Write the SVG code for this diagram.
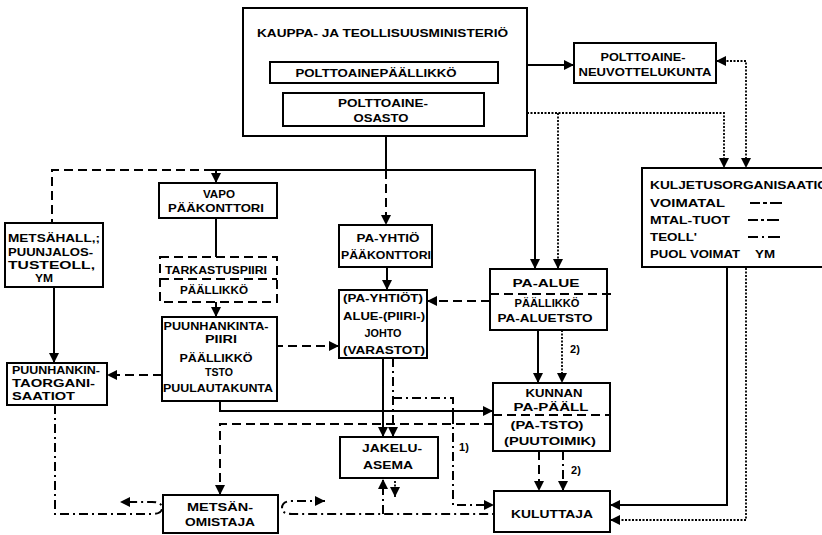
<svg xmlns="http://www.w3.org/2000/svg" width="822" height="535" viewBox="0 0 822 535">
<style>
.bg{fill:#fff}
.box{fill:#fff;stroke:#000;stroke-width:2}
.dbox{fill:#fff;stroke:#000;stroke-width:2;stroke-dasharray:9 5}
.t{font-family:"Liberation Sans",Arial,sans-serif;font-weight:bold;font-size:11px;fill:#000;text-anchor:middle}
.l{text-anchor:start}
.s{fill:none;stroke:#000;stroke-width:2}
.d{fill:none;stroke:#000;stroke-width:2;stroke-dasharray:9 5}
.o{fill:none;stroke:#000;stroke-width:1.8;stroke-dasharray:2 1.5}
.dd{fill:none;stroke:#000;stroke-width:2;stroke-dasharray:9 4 2 4}
</style>
<defs>
<marker id="a" markerUnits="userSpaceOnUse" markerWidth="10" markerHeight="10" refX="10" refY="5" orient="auto-start-reverse">
<path d="M0,0 L10,5 L0,10 z" fill="#000"/>
</marker>
</defs>
<rect class="bg" width="822" height="535"/>

<g id="connectors">
<path class="s" d="M527 65 H574" marker-end="url(#a)"/>
<path class="o" d="M716 61 H746 V168" marker-start="url(#a)" marker-end="url(#a)"/>
<path class="o" d="M527 113 H724 V168" marker-end="url(#a)"/>
<path class="o" d="M558 113 V269" marker-end="url(#a)"/>
<path class="s" d="M386 136 V170"/>
<path class="s" d="M213 170 H535 V269" marker-end="url(#a)"/>
<path class="s" d="M216 170 V183" marker-end="url(#a)"/>
<path class="d" d="M213 170 H52 V223"/>
<path class="d" d="M386 170 V225" marker-end="url(#a)"/>
<path class="s" d="M216 218 V257"/>
<path class="s" d="M216 302 V317" marker-end="url(#a)"/>
<path class="d" d="M162 346 H339" marker-end="url(#a)"/>
<path class="d" d="M162 375 H107" marker-end="url(#a)"/>
<path class="s" d="M54 287 V363" marker-end="url(#a)"/>
<path class="s" d="M220 401 V411 H493" marker-end="url(#a)"/>
<path class="s" d="M387 267 V290" marker-end="url(#a)"/>
<path class="d" d="M490 301 H427" marker-end="url(#a)"/>
<path class="s" d="M538 330 V383" marker-end="url(#a)"/>
<path class="o" d="M562 330 V383" marker-end="url(#a)"/>
<path class="s" d="M383 358 V437" marker-end="url(#a)"/>
<path class="dd" d="M393 358 V437" marker-end="url(#a)"/>
<path class="dd" d="M393 398 H453 V505 H494" marker-end="url(#a)"/>
<path class="s" d="M453 411 V424"/>
<path class="d" d="M493 424 H220 V495" marker-end="url(#a)"/>
<path class="d" d="M539 451 V491" marker-end="url(#a)"/>
<path class="dd" d="M563 451 V491" marker-end="url(#a)"/>
<path class="s" d="M727 268 V505 H610" marker-end="url(#a)"/>
<path class="o" d="M746 268 V520 H610" marker-end="url(#a)"/>
<path class="dd" d="M55 405 V514 H152 Q162 514 162 508 Q162 502 152 502 H120" marker-end="url(#a)"/>
<path class="dd" d="M325 501 H292 Q282 501 282 508 Q282 514 292 514 H494" marker-start="url(#a)"/>
<path class="dd" d="M383 514 V479" marker-end="url(#a)"/>
<path class="o" d="M395 481 V497" marker-end="url(#a)"/>
<text class="t" x="575" y="353">2)</text>
<text class="t" x="576" y="474">2)</text>
<text class="t" x="464" y="451">1)</text>
</g>

<g id="ministerio">
<rect class="box" x="243" y="8" width="284" height="128"/>
<text class="t l" x="257" y="37" textLength="251" lengthAdjust="spacingAndGlyphs">KAUPPA- JA TEOLLISUUSMINISTERIÖ</text>
</g>
<g id="polttoainepaallikko">
<rect class="box" x="270" y="62" width="228" height="21"/>
<text class="t" x="376" y="77" textLength="161" lengthAdjust="spacingAndGlyphs">POLTTOAINEPÄÄLLIKKÖ</text>
</g>
<g id="polttoaineosasto">
<rect class="box" x="283" y="93" width="201" height="33"/>
<text class="t" x="383" y="107" textLength="90" lengthAdjust="spacingAndGlyphs">POLTTOAINE-</text>
<text class="t" x="381" y="122" textLength="55" lengthAdjust="spacingAndGlyphs">OSASTO</text>
</g>
<g id="neuvottelukunta">
<rect class="box" x="574" y="43" width="142" height="40"/>
<text class="t" x="643" y="61" textLength="85" lengthAdjust="spacingAndGlyphs">POLTTOAINE-</text>
<text class="t" x="645" y="76" textLength="133" lengthAdjust="spacingAndGlyphs">NEUVOTTELUKUNTA</text>
</g>
<g id="kuljetus">
<rect class="box" x="642" y="168" width="190" height="99"/>
<text class="t l" x="650" y="189" textLength="178" lengthAdjust="spacingAndGlyphs">KULJETUSORGANISAATIO</text>
<text class="t l" x="650" y="207" textLength="75" lengthAdjust="spacingAndGlyphs">VOIMATAL</text>
<text class="t l" x="650" y="224" textLength="80" lengthAdjust="spacingAndGlyphs">MTAL-TUOT</text>
<text class="t l" x="650" y="241" textLength="47" lengthAdjust="spacingAndGlyphs">TEOLL'</text>
<text class="t l" x="650" y="258" textLength="90" lengthAdjust="spacingAndGlyphs">PUOL VOIMAT</text>
<text class="t l" x="755" y="258" textLength="20" lengthAdjust="spacingAndGlyphs">YM</text>
<path fill="none" stroke="#000" stroke-width="2" stroke-dasharray="10 3 4 3 12" d="M750 203 H782"/>
<path fill="none" stroke="#000" stroke-width="2" stroke-dasharray="10 3 3 3 12" d="M748 220 H782"/>
<path fill="none" stroke="#000" stroke-width="2" stroke-dasharray="10 4 2 4 12" d="M748 237 H782"/>
</g>
<g id="vapo">
<rect class="box" x="159" y="183" width="118" height="35"/>
<text class="t" x="219" y="198" textLength="32" lengthAdjust="spacingAndGlyphs">VAPO</text>
<text class="t" x="216" y="212" textLength="96" lengthAdjust="spacingAndGlyphs">PÄÄKONTTORI</text>
</g>
<g id="tarkastuspiiri">
<rect class="dbox" x="160" y="257" width="117" height="45"/>
<text class="t" x="216" y="274" textLength="102" lengthAdjust="spacingAndGlyphs">TARKASTUSPIIRI</text>
<path class="d" d="M160 279 H277"/>
<text class="t" x="214" y="294" textLength="68" lengthAdjust="spacingAndGlyphs">PÄÄLLIKKÖ</text>
</g>
<g id="puunhankintapiiri">
<rect class="box" x="162" y="317" width="115" height="84"/>
<text class="t" x="216" y="330" textLength="105" lengthAdjust="spacingAndGlyphs">PUUNHANKINTA-</text>
<text class="t" x="221" y="343" textLength="32" lengthAdjust="spacingAndGlyphs">PIIRI</text>
<text class="t" x="216" y="362" textLength="73" lengthAdjust="spacingAndGlyphs">PÄÄLLIKKÖ</text>
<text class="t" x="219" y="376" textLength="28" lengthAdjust="spacingAndGlyphs">TSTO</text>
<text class="t" x="218" y="392" textLength="110" lengthAdjust="spacingAndGlyphs">PUULAUTAKUNTA</text>
</g>
<g id="metsahallitus">
<rect class="box" x="5" y="223" width="98" height="64"/>
<text class="t l" x="8" y="242" textLength="92" lengthAdjust="spacingAndGlyphs">METSÄHALL,;</text>
<text class="t l" x="8" y="256" textLength="85" lengthAdjust="spacingAndGlyphs">PUUNJALOS-</text>
<text class="t l" x="8" y="269" textLength="87" lengthAdjust="spacingAndGlyphs">TUSTEOLL,</text>
<text class="t" x="44" y="282" textLength="18" lengthAdjust="spacingAndGlyphs">YM</text>
</g>
<g id="puunhankintaorg">
<rect class="box" x="7" y="363" width="100" height="42"/>
<text class="t l" x="12" y="374" textLength="88" lengthAdjust="spacingAndGlyphs">PUUNHANKIN-</text>
<text class="t l" x="12" y="387" textLength="83" lengthAdjust="spacingAndGlyphs">TAORGANI-</text>
<text class="t l" x="12" y="400" textLength="63" lengthAdjust="spacingAndGlyphs">SAATIOT</text>
</g>
<g id="metsanomistaja">
<rect class="box" x="163" y="495" width="115" height="38"/>
<text class="t" x="220" y="511" textLength="66" lengthAdjust="spacingAndGlyphs">METSÄN-</text>
<text class="t" x="220" y="526" textLength="70" lengthAdjust="spacingAndGlyphs">OMISTAJA</text>
</g>
<g id="jakeluasema">
<rect class="box" x="340" y="437" width="98" height="41"/>
<text class="t" x="392" y="452" textLength="60" lengthAdjust="spacingAndGlyphs">JAKELU-</text>
<text class="t" x="388" y="469" textLength="50" lengthAdjust="spacingAndGlyphs">ASEMA</text>
</g>
<g id="payhtio">
<rect class="box" x="339" y="225" width="93" height="42"/>
<text class="t" x="388" y="242" textLength="63" lengthAdjust="spacingAndGlyphs">PA-YHTIÖ</text>
<text class="t" x="386" y="259" textLength="90" lengthAdjust="spacingAndGlyphs">PÄÄKONTTORI</text>
</g>
<g id="aluejohto">
<rect class="box" x="339" y="290" width="88" height="68"/>
<text class="t" x="383" y="302" textLength="80" lengthAdjust="spacingAndGlyphs">(PA-YHTIÖT)</text>
<text class="t" x="384" y="320" textLength="82" lengthAdjust="spacingAndGlyphs">ALUE-(PIIRI-)</text>
<text class="t" x="383" y="337" textLength="37" lengthAdjust="spacingAndGlyphs">JOHTO</text>
<text class="t" x="384" y="354" textLength="82" lengthAdjust="spacingAndGlyphs">(VARASTOT)</text>
</g>
<g id="paalue">
<rect class="box" x="490" y="269" width="117" height="61"/>
<text class="t" x="546" y="287" textLength="67" lengthAdjust="spacingAndGlyphs">PA-ALUE</text>
<path class="d" d="M490 294 H612"/>
<text class="t" x="547" y="307" textLength="65" lengthAdjust="spacingAndGlyphs">PÄÄLLIKKÖ</text>
<text class="t" x="545" y="322" textLength="95" lengthAdjust="spacingAndGlyphs">PA-ALUETSTO</text>
</g>
<g id="kunnan">
<rect class="box" x="493" y="383" width="117" height="68"/>
<text class="t" x="554" y="397" textLength="57" lengthAdjust="spacingAndGlyphs">KUNNAN</text>
<text class="t" x="551" y="411" textLength="75" lengthAdjust="spacingAndGlyphs">PA-PÄÄLL</text>
<path class="d" d="M493 415 H610"/>
<text class="t" x="547" y="429" textLength="73" lengthAdjust="spacingAndGlyphs">(PA-TSTO)</text>
<text class="t" x="550" y="445" textLength="92" lengthAdjust="spacingAndGlyphs">(PUUTOIMIK)</text>
</g>
<g id="kuluttaja">
<rect class="box" x="494" y="491" width="116" height="41"/>
<text class="t" x="552" y="518" textLength="82" lengthAdjust="spacingAndGlyphs">KULUTTAJA</text>
</g>
</svg>
